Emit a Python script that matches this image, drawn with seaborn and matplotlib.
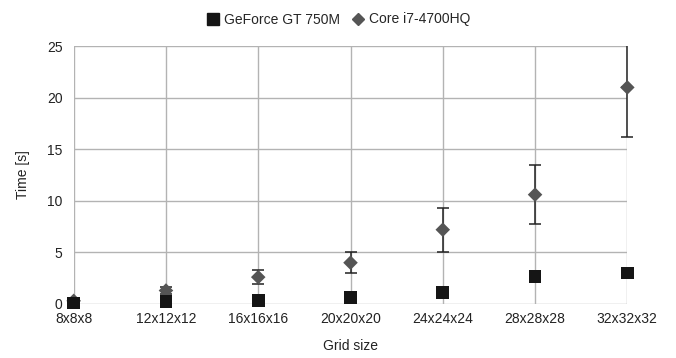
import numpy as np
import pandas as pd
import matplotlib
matplotlib.use("Agg")
import matplotlib.pyplot as plt
import seaborn as sns
from matplotlib.lines import Line2D

grid_sizes = ["8x8x8", "12x12x12", "16x16x16", "20x20x20", "24x24x24", "28x28x28", "32x32x32"]
gpu_time = [0.1, 0.2, 0.3, 0.6, 1.1, 2.7, 3.0]
cpu_time = [0.3, 1.3, 2.6, 4.0, 7.2, 10.6, 21.0]
cpu_err = [0.2, 0.3, 0.65, 1.0, 2.15, 2.85, 4.8]

df = pd.DataFrame({
    "Grid size": grid_sizes * 2,
    "Time": gpu_time + cpu_time,
    "Device": ["GeForce GT 750M"] * 7 + ["Core i7-4700HQ"] * 7,
})
df["pos"] = list(range(7)) * 2

sns.set_style("white")
plt.rcParams["font.family"] = ["Liberation Sans", "DejaVu Sans"]

fig, ax = plt.subplots(figsize=(6.76, 3.58), dpi=100)
fig.subplots_adjust(left=0.109, right=0.928, top=0.871, bottom=0.151)

colors = {"GeForce GT 750M": "#151515", "Core i7-4700HQ": "#555555"}
markers = {"GeForce GT 750M": "s", "Core i7-4700HQ": "D"}
ymax = 25

cpu = df[df["Device"] == "Core i7-4700HQ"].reset_index(drop=True)
err = np.array(cpu_err)
hi = cpu["Time"] + err
inside = hi <= ymax
# bars that stay inside the axis get both caps
ax.errorbar(cpu["pos"][inside], cpu["Time"][inside], yerr=err[inside], fmt="none",
            ecolor="#222222", elinewidth=1.1, capsize=4, capthick=1.1, zorder=3,
            clip_on=False)
# bars running past the top: lower cap only, upper part cut at the axis limit
ax.errorbar(cpu["pos"][~inside], cpu["Time"][~inside], yerr=[err[~inside], np.zeros((~inside).sum())],
            fmt="none", ecolor="#222222", elinewidth=1.1, capsize=4, capthick=1.1, zorder=3,
            clip_on=False)
ax.vlines(cpu["pos"][~inside], cpu["Time"][~inside], ymax, color="#222222", linewidth=1.1,
          zorder=3, clip_on=False)

for dev, size in [("Core i7-4700HQ", 55), ("GeForce GT 750M", 85)]:
    sns.scatterplot(data=df[df["Device"] == dev], x="pos", y="Time",
                    color=colors[dev], marker=markers[dev], s=size,
                    edgecolor="none", ax=ax, zorder=4, legend=False)

for coll in ax.collections:
    coll.set_clip_on(False)

ax.set_xlim(0, 6)
ax.set_ylim(0, ymax)
ax.set_xticks(range(7))
ax.set_xticklabels(grid_sizes)
ax.set_yticks([0, 5, 10, 15, 20, 25])
ax.grid(True, color="#b3b3b3", linewidth=1)
ax.set_axisbelow(True)
for s in ax.spines.values():
    s.set_visible(False)
ax.tick_params(axis="y", length=5, color="#b3b3b3", labelsize=10, labelcolor="#222222", pad=3)
ax.tick_params(axis="x", length=0, labelsize=10, labelcolor="#222222", pad=6)
ax.set_xlabel("Grid size", fontsize=10, color="#222222", labelpad=9)
ax.set_ylabel("Time [s]", fontsize=10, color="#222222", labelpad=12)

handles = [
    Line2D([], [], marker="s", linestyle="none", color=colors["GeForce GT 750M"], markersize=8),
    Line2D([], [], marker="D", linestyle="none", color=colors["Core i7-4700HQ"], markersize=6),
]
fig.legend(handles, ["GeForce GT 750M", "Core i7-4700HQ"], loc="upper center",
           bbox_to_anchor=(0.5, 1.0), ncol=2, frameon=False, fontsize=10,
           handletextpad=0.3, columnspacing=0.8, handlelength=1.0)

fig.savefig("out.png", dpi=100)
